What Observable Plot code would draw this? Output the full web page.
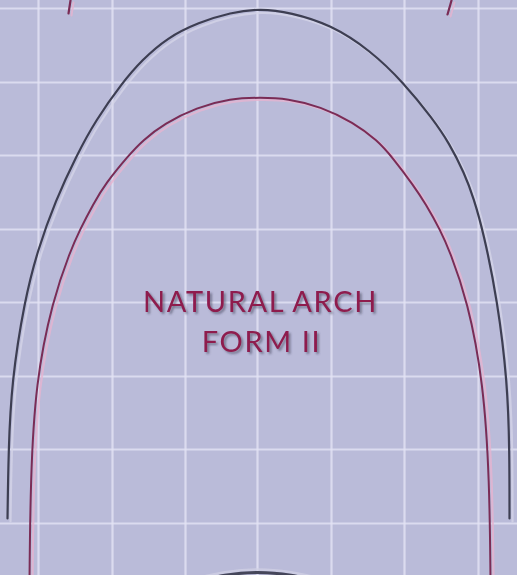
<!DOCTYPE html>
<html>
<head>
<meta charset="utf-8">
<script src="https://cdn.jsdelivr.net/npm/d3@7"></script>
<script src="https://cdn.jsdelivr.net/npm/@observablehq/plot@0.6"></script>
<style>
  html, body { margin: 0; padding: 0; background: #babbd9; }
  svg { display: block; }
</style>
</head>
<body>
<script>
// Grid line positions (picture coordinates, y downward)
const gridX = [38, 112, 185, 257, 331, 404, 478];
const gridY = [8, 82, 155, 229, 302, 376, 449, 523];

// Outer (dark) arch wire
const outerArchX = [7, 8, 11, 24, 37, 55, 76, 95, 122, 141, 167, 198, 230, 260, 290, 330, 370, 403, 432, 449, 464, 473, 483, 497, 507, 509, 509];
const outerArchY = [518, 450, 382, 300, 250, 200, 155, 120, 82, 60, 37, 22, 12, 8, 12, 24, 50, 82, 118, 143, 173, 197, 232, 300, 382, 450, 518];

// Inner (maroon) arch wire
const innerArchX = [29, 30, 35, 52, 70, 79, 93, 105, 128, 142, 164, 196, 230, 260, 287, 320, 353, 377, 392, 413, 425, 440, 449, 467, 483, 489, 490];
const innerArchY = [580, 480, 382, 300, 250, 230, 203, 183, 155, 140, 123, 107, 98, 97, 98, 106, 122, 140, 157, 185, 203, 230, 250, 300, 382, 480, 580];

// Partial wires entering from the edges
const topLeftLegX = [70, 68];
const topLeftLegY = [0, 13];
const topRightLegX = [451, 447];
const topRightLegY = [0, 14];
const bottomArchX = [190, 225, 257, 290, 325];
const bottomArchY = [582, 574, 571, 574, 582];

// Title text
const titleLines = ["NATURAL ARCH", "FORM II"];
const titleX = [260, 261];
const titleY = [302, 342];

const pts = (xs, ys) => xs.map((x, i) => ({x, y: ys[i]}));
const outer = pts(outerArchX, outerArchY);
const inner = pts(innerArchX, innerArchY);
const legL = pts(topLeftLegX, topLeftLegY);
const legR = pts(topRightLegX, topRightLegY);
const bottom = pts(bottomArchX, bottomArchY);
const titles = titleLines.map((t, i) => ({t, x: titleX[i], y: titleY[i]}));

const curve = "basis";

const chart = Plot.plot({
  width: 517,
  height: 575,
  margin: 0,
  x: {domain: [0, 517], axis: null},
  y: {domain: [575, 0], axis: null},
  style: {background: "#babbd9", overflow: "hidden"},
  marks: [
    Plot.ruleX(gridX, {stroke: "#e4e4f4", strokeWidth: 2.2, strokeOpacity: 0.8}),
    Plot.ruleY(gridY, {stroke: "#e4e4f4", strokeWidth: 2.2, strokeOpacity: 0.8}),
    // shadows / highlights
    Plot.line(outer, {x: "x", y: "y", curve, stroke: "#d6d6e8", strokeWidth: 2.2, strokeOpacity: 0.75, dx: 3, dy: 3}),
    Plot.line(inner, {x: "x", y: "y", curve, stroke: "#e6b4d0", strokeWidth: 2.2, strokeOpacity: 0.8, dx: 3, dy: 2}),
    Plot.line(legL, {x: "x", y: "y", stroke: "#e6b4d0", strokeWidth: 2, strokeOpacity: 0.8, dx: 3, dy: 2}),
    Plot.line(legR, {x: "x", y: "y", stroke: "#e6b4d0", strokeWidth: 2, strokeOpacity: 0.8, dx: 3, dy: 2}),
    Plot.line(bottom, {x: "x", y: "y", curve, stroke: "#d0d0e4", strokeWidth: 2.5, strokeOpacity: 0.8, dy: -3}),
    // wires
    Plot.line(outer, {x: "x", y: "y", curve, stroke: "#3d3e52", strokeWidth: 2.2}),
    Plot.line(inner, {x: "x", y: "y", curve, stroke: "#7a2c56", strokeWidth: 2}),
    Plot.line(legL, {x: "x", y: "y", stroke: "#7a2c56", strokeWidth: 2.2}),
    Plot.line(legR, {x: "x", y: "y", stroke: "#7a2c56", strokeWidth: 2.2}),
    Plot.line(bottom, {x: "x", y: "y", curve, stroke: "#45465a", strokeWidth: 3}),
    // title
    Plot.text(titles, {x: "x", y: "y", text: "t", fill: "#8e1b4e", fontSize: 29, fontFamily: "Lato", textAnchor: "middle"})
  ]
});

const svg = d3.select(chart);
svg.append("defs").append("filter")
  .attr("id", "txtShadow")
  .attr("x", "-10%").attr("y", "-30%").attr("width", "120%").attr("height", "160%")
  .append("feDropShadow")
  .attr("dx", 2).attr("dy", 2).attr("stdDeviation", 1)
  .attr("flood-color", "#3e3e55").attr("flood-opacity", 0.55);
svg.selectAll('g[aria-label="text"]').attr("filter", "url(#txtShadow)");
svg.selectAll('g[aria-label="text"] text').attr("letter-spacing", "1.6px");
document.body.appendChild(chart);
</script>
</body>
</html>
